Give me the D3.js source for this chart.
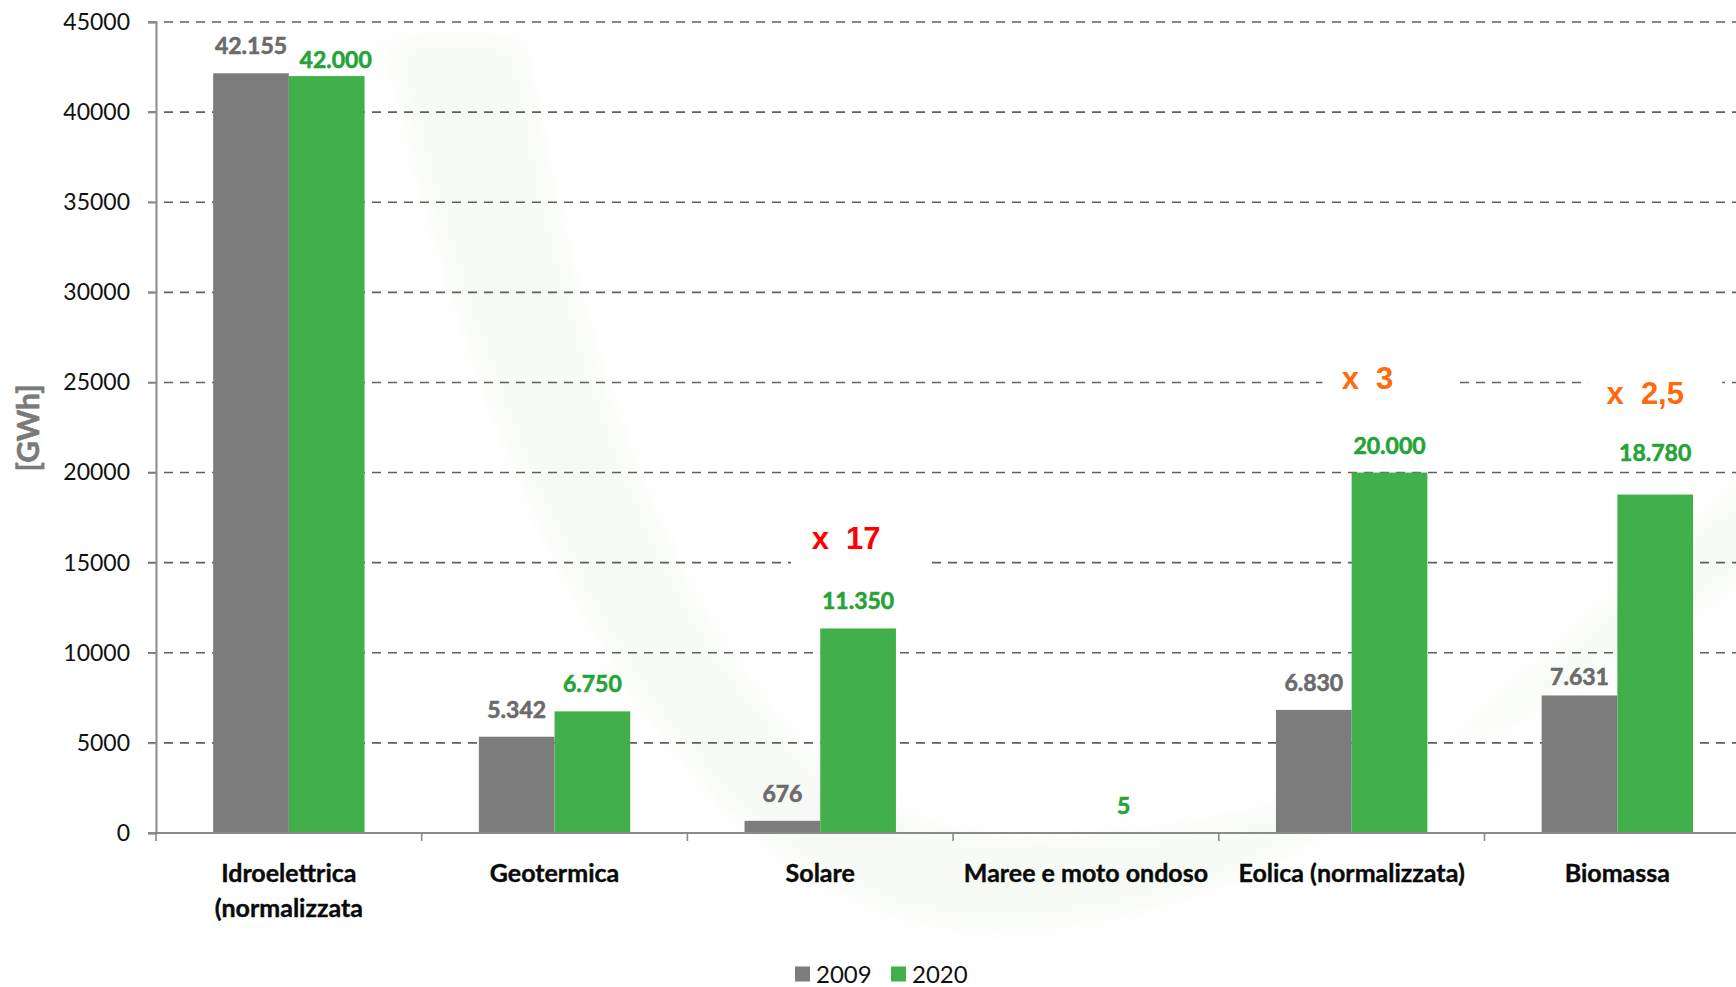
<!DOCTYPE html>
<html>
<head>
<meta charset="utf-8">
<script src="https://cdn.jsdelivr.net/npm/d3@7"></script>
<style>
  html, body { margin: 0; padding: 0; background: #fff; }
  svg { display: block; }
</style>
</head>
<body>
<svg id="chart" width="1736" height="987" viewBox="0 0 1736 987"></svg>
<script>
// data
const categories = ["Idroelettrica (normalizzata", "Geotermica", "Solare", "Maree e moto ondoso", "Eolica (normalizzata)", "Biomassa"]
const series = ["2009", "2020"]
const values2009 = [42155, 5342, 676, null, 6830, 7631]
const values2020 = [42000, 6750, 11350, 5, 20000, 18780]
const yTicks = [0, 5000, 10000, 15000, 20000, 25000, 30000, 35000, 40000, 45000]
// growth notes over the 2020 bars
const notes = [
    {cat: "Solare", text: "x  17"},
    {cat: "Eolica (normalizzata)", text: "x  3"},
    {cat: "Biomassa", text: "x  2,5"}
]

const svg = d3.select("#chart")
const width = 1736, height = 987
const plotLeft = 156, plotTop = 22, plotBottom = 833
const band = 265.7

const colors = {"2009": "#7b7c7b", "2020": "#41b04b"}
const labelColors = {"2009": "#6b6b6b", "2020": "#25a336"}
// note placement: height in GWh, x shift from bar centre, colour
const noteLayout = {
    "Solare": {at: 16400, dx: -12, color: "#ff0000"},
    "Eolica (normalizzata)": {at: 25250, dx: -22, color: "#ff6a0a"},
    "Biomassa": {at: 24400, dx: -10, color: "#ff6a0a"}
}
// labels the original moved by hand
const labelNudge = {
    "Idroelettrica (normalizzata|2020": [9, 11],
    "Biomassa|2020": [0, -15],
    "Biomassa|2009": [0, 9]
}
const it = d3.formatLocale({decimal: ",", thousands: ".", grouping: [3], currency: ["€", ""]})
const fmt = it.format(",d")

const rows = categories.map((c, i) => ({cat: c, vals: [
    {cat: c, s: "2009", v: values2009[i]}, {cat: c, s: "2020", v: values2020[i]}]}))

const x0 = d3.scaleBand()
    .domain(categories)
    .range([plotLeft, plotLeft + band * categories.length])
const x1 = d3.scaleBand()
    .domain(series)
    .range([0, x0.bandwidth()])
    .paddingOuter(0.755)
const y = d3.scaleLinear()
    .domain([0, 45000])
    .range([plotBottom, plotTop])

// faint swoosh in the background
const defs = svg.append("defs")
defs.append("filter").attr("id", "blur")
    .attr("x", "-20%").attr("y", "-20%").attr("width", "140%").attr("height", "140%")
    .append("feGaussianBlur").attr("stdDeviation", 14)
svg.append("path")
    .attr("d", "M390,40 C470,400 650,930 1000,925 C1300,920 1500,700 1760,470 L1760,560 C1500,760 1250,850 1000,840 C720,830 580,400 520,40 Z")
    .attr("fill", "#f1f6ee")
    .attr("opacity", 0.6)
    .attr("filter", "url(#blur)")

// gridlines
svg.append("g")
    .selectAll("line")
    .data(yTicks.filter(d => d > 0))
    .enter()
    .append("line")
    .attr("x1", plotLeft - 8)
    .attr("x2", width)
    .attr("y1", d => y(d))
    .attr("y2", d => y(d))
    .attr("stroke", "#5f5f5f")
    .attr("stroke-width", 1.6)
    .attr("stroke-dasharray", "9,7")

// y axis
const yAxis = svg.append("g")
    .attr("transform", `translate(${plotLeft},0)`)
    .call(d3.axisLeft(y).tickValues(yTicks).tickSize(8).tickPadding(18).tickFormat(d3.format("d")))
yAxis.select(".domain").attr("stroke", "#8a8a8a").attr("stroke-width", 2)
yAxis.selectAll(".tick line").attr("stroke", "#8a8a8a").attr("stroke-width", 1.6)
yAxis.selectAll(".tick text")
    .attr("font-family", "Lato, sans-serif")
    .attr("font-size", 23)
    .attr("fill", "#111")

// bars
const groups = svg.append("g")
    .selectAll("g")
    .data(rows)
    .enter()
    .append("g")
    .attr("transform", d => `translate(${x0(d.cat)},0)`)

groups.selectAll("rect")
    .data(d => d.vals.filter(v => v.v != null))
    .enter()
    .append("rect")
    .attr("x", d => x1(d.s))
    .attr("width", x1.bandwidth())
    .attr("y", d => y(d.v))
    .attr("height", d => plotBottom - y(d.v))
    .attr("fill", d => colors[d.s])

const nudge = d => labelNudge[d.cat + "|" + d.s] || [0, 0]
groups.selectAll("text")
    .data(d => d.vals.filter(v => v.v != null))
    .enter()
    .append("text")
    .attr("x", d => x1(d.s) + x1.bandwidth() / 2 + nudge(d)[0])
    .attr("y", d => y(d.v) - 19 + nudge(d)[1])
    .attr("text-anchor", "middle")
    .attr("font-family", "Lato, sans-serif")
    .attr("font-weight", "bold")
    .attr("font-size", 23)
    .attr("fill", d => labelColors[d.s])
    .attr("stroke", d => labelColors[d.s])
    .attr("stroke-width", 0.6)
    .text(d => fmt(d.v))

// x axis
svg.append("line")
    .attr("x1", plotLeft - 8).attr("x2", width)
    .attr("y1", plotBottom).attr("y2", plotBottom)
    .attr("stroke", "#8a8a8a").attr("stroke-width", 2.2)
svg.append("g")
    .selectAll("line")
    .data(categories)
    .enter()
    .append("line")
    .attr("x1", d => x0(d)).attr("x2", d => x0(d))
    .attr("y1", plotBottom).attr("y2", plotBottom + 8)
    .attr("stroke", "#8a8a8a").attr("stroke-width", 1.6)

const catLabels = svg.append("g")
    .selectAll("text")
    .data(categories)
    .enter()
    .append("text")
    .attr("x", d => x0(d) + x0.bandwidth() / 2)
    .attr("y", 882)
    .attr("text-anchor", "middle")
    .attr("font-family", "Lato, sans-serif")
    .attr("font-weight", "bold")
    .attr("font-size", 25)
    .attr("fill", "#0a0a0a")
    .attr("stroke", "#0a0a0a")
    .attr("stroke-width", 0.4)
catLabels.each(function (d) {
    // first category wraps onto two lines
    const parts = d.startsWith("Idroelettrica") ? ["Idroelettrica", "(normalizzata"] : [d]
    d3.select(this).selectAll("tspan")
        .data(parts)
        .enter()
        .append("tspan")
        .attr("x", x0(d) + x0.bandwidth() / 2)
        .attr("dy", (p, i) => i == 0 ? 0 : 35)
        .text(p => p)
})

// growth notes with white boxes over the gridlines
const noteG = svg.append("g")
    .selectAll("g")
    .data(notes)
    .enter()
    .append("g")
    .attr("transform", d => `translate(${x0(d.cat) + x1("2020") + x1.bandwidth() / 2},${y(noteLayout[d.cat].at)})`)
noteG.append("rect")
    .attr("x", -67).attr("width", 134)
    .attr("y", -30).attr("height", 62)
    .attr("fill", "#fff")
noteG.append("text")
    .attr("x", d => noteLayout[d.cat].dx)
    .attr("dy", "0.36em")
    .attr("text-anchor", "middle")
    .attr("font-family", "'Liberation Sans', Arial, sans-serif")
    .attr("font-weight", "bold")
    .attr("font-size", 31)
    .attr("fill", d => noteLayout[d.cat].color)
    .style("white-space", "pre")
    .text(d => d.text)

// y title
svg.append("text")
    .attr("transform", "translate(28,428) rotate(-90)")
    .attr("text-anchor", "middle")
    .attr("dy", "0.35em")
    .attr("font-family", "Lato, sans-serif")
    .attr("font-weight", "bold")
    .attr("font-size", 30)
    .attr("fill", "#7a7a7a")
    .attr("stroke", "#7a7a7a")
    .attr("stroke-width", 0.6)
    .text("[GWh]")

// legend
const legend = svg.append("g")
    .attr("transform", "translate(795,974)")
    .selectAll("g")
    .data(series)
    .enter()
    .append("g")
    .attr("transform", (d, i) => `translate(${i * 96},0)`)
legend.append("rect")
    .attr("x", 0).attr("y", -7.5)
    .attr("width", 15).attr("height", 15)
    .attr("fill", d => colors[d])
legend.append("text")
    .attr("x", 21)
    .attr("dy", "0.36em")
    .attr("font-family", "Lato, sans-serif")
    .attr("font-size", 24)
    .attr("fill", "#111")
    .text(d => d)
</script>
</body>
</html>
